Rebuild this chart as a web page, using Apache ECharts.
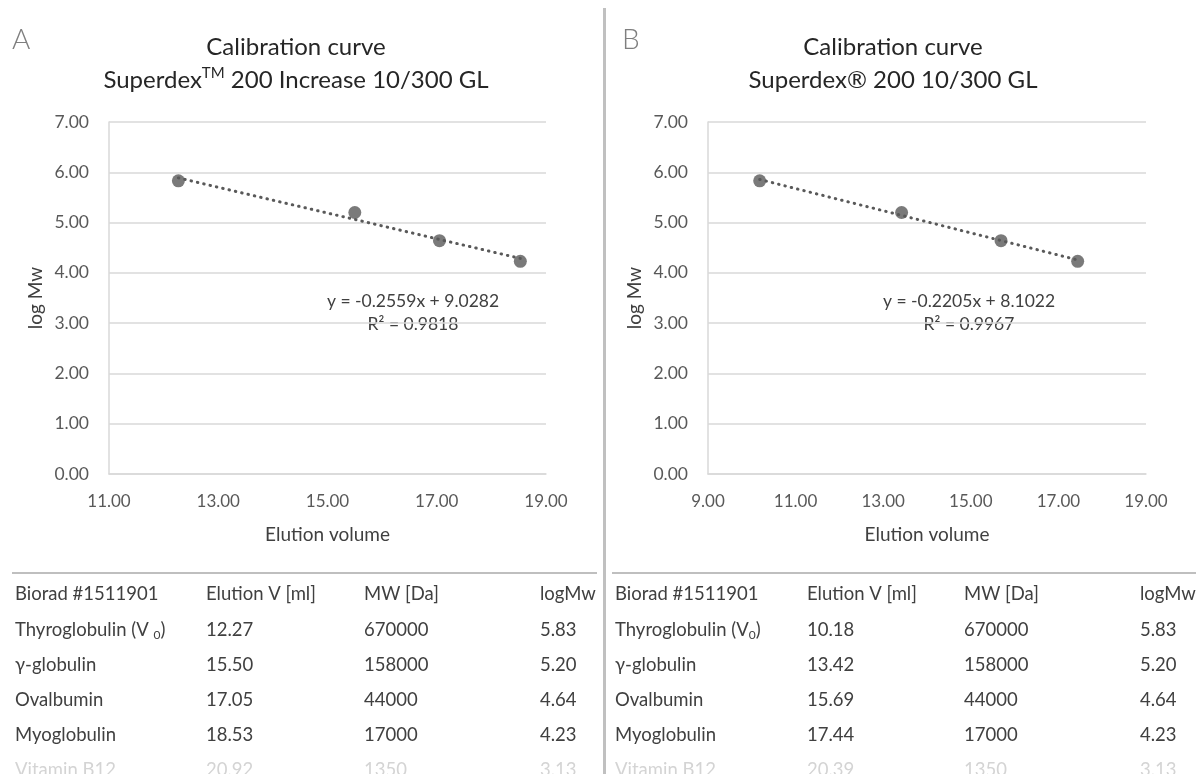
<!DOCTYPE html>
<html>
<head>
<meta charset="utf-8">
<script src="https://cdn.jsdelivr.net/npm/echarts@6/dist/echarts.min.js"></script>
<style>
html,body{margin:0;padding:0;background:#fff;}
#main{width:1196px;height:774px;}
</style>
</head>
<body>
<div id="main"></div>
<script>
// ---- data ----
const proteins = ['Thyroglobulin (V0)', 'γ-globulin', 'Ovalbumin', 'Myoglobulin', 'Vitamin B12'];
const elutionA = [12.27, 15.50, 17.05, 18.53, 20.92];
const elutionB = [10.18, 13.42, 15.69, 17.44, 20.39];
const mwDa = [670000, 158000, 44000, 17000, 1350];
const logMw = [5.83, 5.20, 4.64, 4.23, 3.13];
const plottedCount = 4; // Vitamin B12 greyed out, not plotted
const tableHeaders = ['Biorad #1511901', 'Elution V [ml]', 'MW [Da]', 'logMw'];
const fitA = { slope: -0.2559, intercept: 9.0282, r2: 0.9818 };
const fitB = { slope: -0.2205, intercept: 8.1022, r2: 0.9967 };
const xRangeA = [11, 19];
const xRangeB = [9, 19];
const yRange = [0, 7];

// ---- styles ----
const FONT = 'Lato, "Open Sans", sans-serif';
const PT = '#595959';
const TXT = '#404040';
const GRID = '#d9d9d9';
const TITLE = '#262626';
const TABLE_FS = 18.5;

function pts(xs) {
  return xs.slice(0, plottedCount).map((x, i) => [x, logMw[i]]);
}
function trend(xs, fit) {
  const p = xs.slice(0, plottedCount);
  const x0 = Math.min(...p), x1 = Math.max(...p);
  return [[x0, fit.intercept + fit.slope * x0], [x1, fit.intercept + fit.slope * x1]];
}
function fmtEq(fit) {
  const s = fit.slope < 0 ? '-' + Math.abs(fit.slope).toFixed(4) : fit.slope.toFixed(4);
  return 'y = ' + s + 'x + ' + fit.intercept.toFixed(4);
}

function xAxisCfg(gi, range) {
  return {
    type: 'value', gridIndex: gi, min: range[0], max: range[1], interval: 1,
    name: 'Elution volume', nameLocation: 'middle', nameGap: 51,
    nameTextStyle: { fontFamily: FONT, fontSize: 19, color: TXT },
    axisLine: { show: true, lineStyle: { color: GRID, width: 1.5 } },
    axisTick: { show: false },
    splitLine: { show: false },
    axisLabel: {
      margin: 19, fontFamily: FONT, fontSize: 17, color: PT,
      formatter: v => (Math.round(v) % 2 === 1) ? v.toFixed(2) : ''
    }
  };
}
function yAxisCfg(gi) {
  return {
    type: 'value', gridIndex: gi, min: yRange[0], max: yRange[1], interval: 1,
    name: 'log Mw', nameLocation: 'middle', nameGap: 64,
    nameTextStyle: { fontFamily: FONT, fontSize: 19, color: TXT },
    axisLine: { show: true, lineStyle: { color: GRID, width: 1.5 } },
    axisTick: { show: false },
    splitLine: { show: true, lineStyle: { color: GRID, width: 1.5 } },
    axisLabel: { margin: 20, fontFamily: FONT, fontSize: 17.5, color: PT, formatter: v => v.toFixed(2) }
  };
}
function scatterSeries(gi, xs) {
  return {
    type: 'scatter', xAxisIndex: gi, yAxisIndex: gi, data: pts(xs),
    symbolSize: 13, itemStyle: { color: PT }, z: 3
  };
}
function trendSeries(gi, xs, fit) {
  return {
    type: 'line', xAxisIndex: gi, yAxisIndex: gi, data: trend(xs, fit),
    symbol: 'none', z: 2,
    lineStyle: { color: PT, width: 3, type: [0.5, 6], cap: 'round' }
  };
}

// ---- graphic text ----
const graphics = [];
function txt(x, y, text, opts) {
  graphics.push({
    type: 'text', x: x, y: y, silent: true,
    style: Object.assign({ text: text, fill: TXT, font: TABLE_FS + 'px ' + FONT, align: 'left', verticalAlign: 'middle' }, opts || {})
  });
}
// panel letters
txt(12, 40, 'A', { font: '300 28px ' + FONT, fill: '#7f7f7f' });
txt(622, 40, 'B', { font: '300 28px ' + FONT, fill: '#7f7f7f' });
// titles
txt(296, 47, 'Calibration curve', { font: '24px ' + FONT, align: 'center', fill: TITLE });
txt(893, 47, 'Calibration curve', { font: '24px ' + FONT, align: 'center', fill: TITLE });
const titleRich = {
  n: { fontFamily: FONT, fontSize: 24, fill: TITLE, lineHeight: 28 },
  sup: { fontFamily: FONT, fontSize: 15, fill: TITLE, lineHeight: 16, verticalAlign: 'top' }
};
graphics.push({ type: 'text', x: 296, y: 80, silent: true,
  style: { text: '{n|Superdex}{sup|TM}{n| 200 Increase 10/300 GL}', rich: titleRich, align: 'center', verticalAlign: 'middle' } });
graphics.push({ type: 'text', x: 893, y: 80, silent: true,
  style: { text: '{n|Superdex® 200 10/300 GL}', rich: titleRich, align: 'center', verticalAlign: 'middle' } });

// equations
txt(413, 301, fmtEq(fitA), { font: '17.5px ' + FONT, align: 'center', fill: TXT });
txt(413, 324, 'R² = ' + fitA.r2.toFixed(4), { font: '17.5px ' + FONT, align: 'center', fill: TXT });
txt(969, 301, fmtEq(fitB), { font: '17.5px ' + FONT, align: 'center', fill: TXT });
txt(969, 324, 'R² = ' + fitB.r2.toFixed(4), { font: '17.5px ' + FONT, align: 'center', fill: TXT });

// separator & table lines
graphics.push({ type: 'rect', silent: true, shape: { x: 603, y: 8, width: 3, height: 766 }, style: { fill: '#c0c0c0' } });
graphics.push({ type: 'line', silent: true, shape: { x1: 12, y1: 573, x2: 597, y2: 573 }, style: { stroke: '#bfbfbf', lineWidth: 2 } });
graphics.push({ type: 'line', silent: true, shape: { x1: 612, y1: 573, x2: 1196, y2: 573 }, style: { stroke: '#bfbfbf', lineWidth: 2 } });

// tables
const rowY = [594, 630, 665, 700, 735, 770];
function buildTable(x0, cols, elution, spacedSub) {
  tableHeaders.forEach((h, c) => txt(x0 + cols[c], rowY[0], h));
  proteins.forEach((p, i) => {
    const col = i === plottedCount ? '#d4d4d4' : TXT;
    if (p.endsWith('(V0)')) {
      const base = p.slice(0, -2);
      const rich = {
        n: { fontFamily: FONT, fontSize: TABLE_FS, lineHeight: 22, fill: col },
        s: { fontFamily: FONT, fontSize: 12, lineHeight: 13, verticalAlign: 'bottom', fill: col }
      };
      graphics.push({ type: 'text', x: x0 + cols[0], y: rowY[i + 1], silent: true,
        style: { text: '{n|' + base + (spacedSub ? ' ' : '') + '}{s|0}{n|)}', rich: rich, align: 'left', verticalAlign: 'middle' } });
    } else {
      txt(x0 + cols[0], rowY[i + 1], p, { fill: col });
    }
    txt(x0 + cols[1], rowY[i + 1], elution[i].toFixed(2), { fill: col });
    txt(x0 + cols[2], rowY[i + 1], String(mwDa[i]), { fill: col });
    txt(x0 + cols[3], rowY[i + 1], logMw[i].toFixed(2), { fill: col });
  });
}
buildTable(0, [15, 206, 364, 540], elutionA, true);
buildTable(600, [15, 207, 364, 540], elutionB, false);

const chart = echarts.init(document.getElementById('main'), null, { renderer: 'canvas' });
chart.setOption({
  backgroundColor: '#ffffff',
  animation: false,
  textStyle: { fontFamily: FONT },
  grid: [
    { left: 109, top: 122, width: 437, height: 352 },
    { left: 708, top: 122, width: 438, height: 352 }
  ],
  xAxis: [xAxisCfg(0, xRangeA), xAxisCfg(1, xRangeB)],
  yAxis: [yAxisCfg(0), yAxisCfg(1)],
  series: [
    trendSeries(0, elutionA, fitA), scatterSeries(0, elutionA),
    trendSeries(1, elutionB, fitB), scatterSeries(1, elutionB)
  ],
  graphic: graphics
});
</script>
</body>
</html>
